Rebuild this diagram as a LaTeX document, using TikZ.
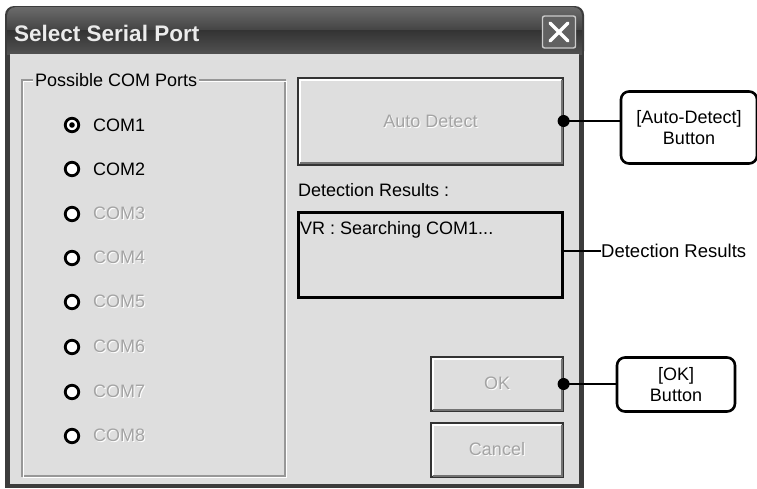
\documentclass[tikz,border=0pt]{standalone}
\usepackage{fontspec}
\setmainfont{Liberation Sans}
\usetikzlibrary{calc}
\definecolor{dlgbg}{HTML}{DEDEDE}
\definecolor{dimtxt}{HTML}{A4A4A4}
\definecolor{etch}{HTML}{979797}
\definecolor{frame}{HTML}{3C3C3C}
\newcommand\etchtext[1]{\rlap{\kern1pt\raisebox{-1pt}{\color{white}#1}}#1}

\begin{document}
\begin{tikzpicture}[x=1pt,y=-1pt,
  radio/.style={circle,draw=black,line width=2.8pt,fill=white,minimum size=13.5pt,inner sep=0},
  portlbl/.style={anchor=west,font=\fontsize{18}{18}\selectfont,inner sep=0},
  winbtn/.style={draw=black!80,line width=1.2pt,fill=dlgbg,inner sep=0,font=\fontsize{18}{18}\selectfont,text=dimtxt},
  callout/.style={draw=black,line width=2.6pt,fill=white,rounded corners=8pt,align=center,inner sep=0,font=\fontsize{18}{21}\selectfont},
  lead/.style={line width=2pt}]
\useasboundingbox(0,0)rectangle(757,488);
\fill[white](0,0)rectangle(757,488);
% window frame and title bar
\fill[frame,rounded corners=9pt](5,6)--(584,6)--(584,60)--(5,60)--cycle;
\fill[frame](5,40)rectangle(584,488);
\shade[top color=black!58,bottom color=black!80,rounded corners=9pt](7,7)--(582,7)--(582,40)--(7,40)--cycle;
\shade[top color=black!80,bottom color=black!68](7,30)rectangle(582,54);
\fill[dlgbg](10,54)rectangle(579,484);
\node[anchor=west,inner sep=0,text=black!8,font=\fontsize{22.5}{22.5}\selectfont\bfseries](title)at(14,33){Select Serial Port};
\node[draw=white!80!black,line width=1.4pt,fill=black!62,rounded corners=2pt,minimum width=33pt,minimum height=32pt,inner sep=0](close)at(559,32){};
\draw[white,line width=3.4pt,line cap=round]($(close)+(-9,-9)$)--($(close)+(9,9)$)($(close)+(-9,9)$)--($(close)+(9,-9)$);
% group box
\begin{scope}
\draw[etch,line width=1.2pt](22,80)rectangle(285,476);
\draw[white,line width=1pt](23.5,81.5)rectangle(286.5,477.5);
\node[fill=dlgbg,anchor=west,inner sep=2pt,font=\fontsize{18}{18}\selectfont](grp)at(33,80){Possible COM Ports};
\end{scope}
% radio buttons
\foreach\i/\y in{1/125,2/169,3/214,4/258,5/302,6/347,7/392,8/436}{
  \node[radio](r\i)at(72,\y){};
  \ifnum\i<3
    \node[portlbl](c\i)at(93,\y){COM\i};
  \else
    \node[portlbl,text=dimtxt](c\i)at(93,\y){\etchtext{COM\i}};
  \fi
}
\fill(r1)circle(2.8pt);
% buttons
\node[winbtn,minimum width=265pt,minimum height=87pt](auto)at(430.5,121.5){\etchtext{Auto Detect}};
\draw[white,line width=1.4pt](300,163)--(300,80)--(561,80);
\draw[black!55,line width=2pt](300,162.5)--(561.5,162.5)--(561.5,80);
\node[anchor=west,inner sep=0,font=\fontsize{18}{18}\selectfont](restitle)at(298,190){Detection Results :};
\node[draw=black,line width=3pt,minimum width=264pt,minimum height=85pt,inner sep=0](results)at(430,255){};
\node[anchor=north west,inner sep=0,font=\fontsize{18}{18}\selectfont](resline)at(300,221){VR : Searching COM1...};
\node[winbtn,minimum width=132pt,minimum height=54pt](ok)at(497,384){\etchtext{OK}};
\draw[white,line width=1.4pt](433,409)--(433,359)--(561,359);
\draw[black!55,line width=2pt](433,409.5)--(561.5,409.5)--(561.5,359);
\node[winbtn,minimum width=132pt,minimum height=54pt](cancel)at(497,450){\etchtext{Cancel}};
\draw[white,line width=1.4pt](433,475)--(433,425)--(561,425);
\draw[black!55,line width=2pt](433,475.5)--(561.5,475.5)--(561.5,425);
% callouts
\node[callout,minimum width=136pt,minimum height=72pt](autocall)at(689,127.5){[Auto-Detect]\\Button};
\node[callout,minimum width=118pt,minimum height=54pt](okcall)at(676,384.5){[OK]\\Button};
\node[anchor=west,inner sep=0,font=\fontsize{18.5}{18.5}\selectfont](rescall)at(601,251){Detection Results};
\draw[lead](auto.east|-0,121)--(autocall.west|-0,121);
\fill(auto.east|-0,121)circle(6pt);
\draw[lead](ok.east)--(ok.east-|okcall.west);
\fill(ok.east)circle(6pt);
\draw[lead](results.east|-rescall)--(rescall.west);
\end{tikzpicture}
\end{document}
